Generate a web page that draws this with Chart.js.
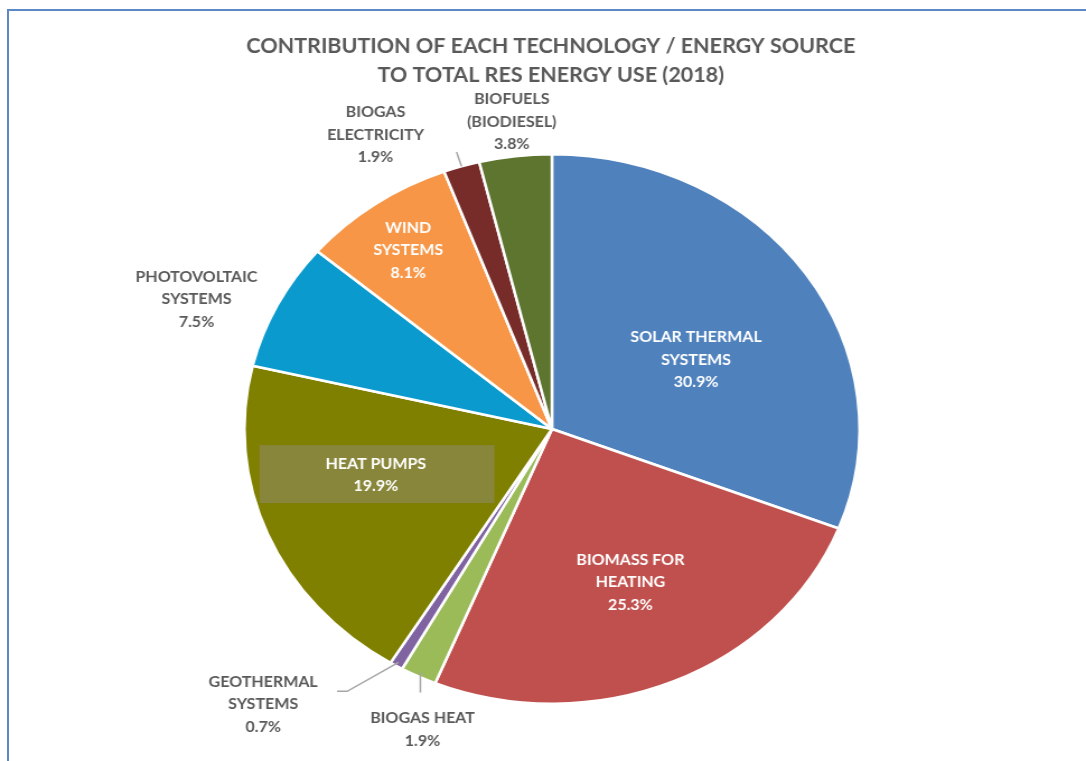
<!DOCTYPE html>
<html>
<head>
<meta charset="utf-8">
<title>RES energy use 2018</title>
<script src="https://cdn.jsdelivr.net/npm/chart.js@4.4.0/dist/chart.umd.min.js"></script>
<style>
html, body { margin: 0; padding: 0; background: #fff; overflow: hidden; }
#frame { position: absolute; left: 7px; top: 9px; width: 1300px; height: 900px;
         border-left: 2px solid #5C88C6; border-top: 2px solid #5C88C6; }
#pie { position: absolute; left: 0; top: 0; }
</style>
</head>
<body>
<div id="frame"></div>
<canvas id="pie" width="970" height="761" style="width:1086px;height:761px"></canvas>
<script>
// Share of each technology in total RES energy use, 2018 (%)
const categories = [
    ['SOLAR THERMAL', 'SYSTEMS'],
    ['BIOMASS FOR', 'HEATING'],
    ['BIOGAS HEAT'],
    ['GEOTHERMAL', 'SYSTEMS'],
    ['HEAT PUMPS'],
    ['PHOTOVOLTAIC', 'SYSTEMS'],
    ['WIND', 'SYSTEMS'],
    ['BIOGAS', 'ELECTRICITY'],
    ['BIOFUELS', '(BIODIESEL)']
];
const shares = [30.9, 25.3, 1.9, 0.7, 19.9, 7.5, 8.1, 1.9, 3.8];
const sliceColors = ['#4F81BD', '#C0504D', '#9BBB59', '#8064A2', '#7F7F00',
                     '#0B9ACD', '#F79646', '#772C2A', '#5E7530'];
const titleLines = ['CONTRIBUTION OF EACH TECHNOLOGY / ENERGY SOURCE',
                    'TO TOTAL RES ENERGY USE (2018)'];

// canvas is drawn narrow and widened by css, so the pie becomes an oval
const STRETCH = 1086 / 970;

// where each label sits: fraction of radius along the slice middle + nudge
const labelPlace = [
    { frac: 0.55, dx: 4,   dy: 16,  inside: true },
    { frac: 0.61, dx: 4,   dy: -1,  inside: true },
    { frac: 1.17, dx: 24,  dy: 11,  inside: false, leader: 'down' },
    { frac: 1.20, dx: -91, dy: -9,  inside: false, leader: 'elbow' },
    { frac: 0.60, dx: -5,  dy: -17, inside: true, box: true },
    { frac: 1.25, dx: -11, dy: 25,  inside: false },
    { frac: 0.80, dx: -2,  dy: 1,   inside: true },
    { frac: 1.22, dx: -59, dy: 26,  inside: false, leader: 'radial' },
    { frac: 1.127, dx: 1,  dy: 0,   inside: false }
];

function drawText(ctx, text, x, y) {
    ctx.save();
    ctx.translate(x, y);
    ctx.scale(1 / STRETCH, 1);
    ctx.fillText(text, 0, 0);
    ctx.restore();
}

const pieLabels = {
    id: 'pieLabels',
    afterDraw(chart) {
        const ctx = chart.ctx;
        const arcs = chart.getDatasetMeta(0).data;
        ctx.save();
        ctx.textAlign = 'center';
        ctx.textBaseline = 'middle';

        // title
        ctx.fillStyle = '#595959';
        ctx.font = 'bold 21.5px Lato';
        titleLines.forEach((t, i) => drawText(ctx, t, 492, 46 + i * 29));

        arcs.forEach((arc, i) => {
            const p = arc.getProps(['x', 'y', 'startAngle', 'endAngle', 'outerRadius'], true);
            const mid = (p.startAngle + p.endAngle) / 2;
            const place = labelPlace[i];
            const at = f => ({ x: p.x + Math.cos(mid) * p.outerRadius * f,
                               y: p.y + Math.sin(mid) * p.outerRadius * f });
            const a = at(place.frac);
            const lx = a.x + place.dx, ly = a.y + place.dy;
            const lines = categories[i].concat([shares[i].toFixed(1) + '%']);
            const lh = 22.5;
            const top = ly - (lines.length - 1) * lh / 2;

            if (place.box) {
                ctx.fillStyle = 'rgba(150,145,145,0.4)';
                ctx.fillRect(lx - 104, ly - 30, 210, 58);
            }

            ctx.strokeStyle = '#A6A6A6';
            ctx.lineWidth = 1.5;
            if (place.leader === 'radial') {
                const s = at(1.0), e = at(1.055);
                ctx.beginPath(); ctx.moveTo(s.x, s.y); ctx.lineTo(e.x, e.y); ctx.stroke();
            } else if (place.leader === 'elbow') {
                const s = at(0.985);
                ctx.beginPath();
                ctx.moveTo(s.x, s.y);
                ctx.lineTo(lx + 75, ly - 13);
                ctx.lineTo(lx + 66, ly - 13);
                ctx.stroke();
            } else if (place.leader === 'down') {
                const s = at(0.985);
                ctx.beginPath(); ctx.moveTo(s.x, s.y); ctx.lineTo(s.x, ly - 37); ctx.stroke();
            }

            ctx.fillStyle = place.inside ? '#FFFFFF' : '#595959';
            ctx.font = 'bold 16px Lato';
            lines.forEach((t, k) => drawText(ctx, t, lx, top + k * lh));
        });
        ctx.restore();
    }
};

new Chart(document.getElementById('pie'), {
    type: 'pie',
    data: {
        labels: categories,
        datasets: [{
            data: shares,
            backgroundColor: sliceColors,
            borderColor: '#FFFFFF',
            borderWidth: 2.5
        }]
    },
    options: {
        responsive: false,
        animation: false,
        layout: { padding: { top: 153, bottom: 56, left: 100, right: 84 } },
        plugins: {
            legend: { display: false },
            tooltip: { enabled: false }
        }
    },
    plugins: [pieLabels]
});
</script>
</body>
</html>
